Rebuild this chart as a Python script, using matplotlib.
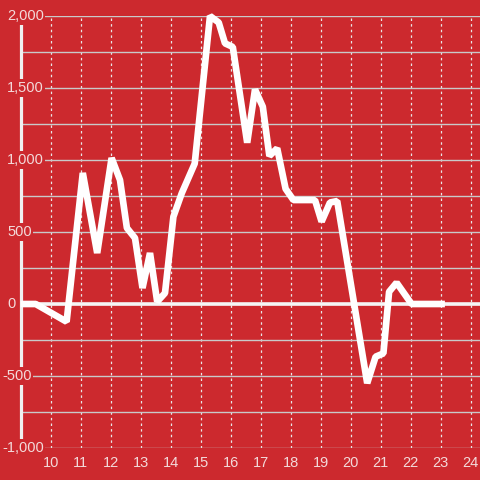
import matplotlib.pyplot as plt
import numpy as np

plt.rcParams['font.family'] = ['Liberation Sans', 'DejaVu Sans']

# data
hours = [9.0, 9.5, 10.53, 11.07, 11.55, 12.03, 12.31, 12.54, 12.81, 13.06,
         13.31, 13.55, 13.81, 14.09, 14.37, 14.8, 15.31, 15.6, 15.81, 16.07,
         16.55, 16.81, 17.07, 17.29, 17.55, 17.83, 18.09, 18.81, 19.03, 19.31,
         19.55, 20.55, 20.83, 21.09, 21.28, 21.53, 22.03, 23.14]
values = [0, 0, -123, 910, 354, 1014, 861, 528, 458, 111,
          354, 16, 76, 606, 770, 975, 2000, 1955, 1810, 1785,
          1120, 1490, 1370, 1028, 1081, 800, 722, 722, 572, 705,
          715, -550, -366, -343, 85, 148, 0, 0]
x_ticks = list(range(10, 25))
y_labels = [-1000, -500, 0, 500, 1000, 1500, 2000]

bg = '#CC292E'
txt = '#F3DADA'

fig = plt.figure(figsize=(4.8, 4.8), dpi=100, facecolor=bg)
ax = fig.add_axes([20.7 / 480, 32 / 480, 459.3 / 480, 432 / 480], facecolor=bg)
ax.set_xlim(9.0, 24.31)
ax.set_ylim(-1000, 2000)

# grid
ax.set_yticks(np.arange(-1000, 2001, 250))
ax.set_xticks(x_ticks)
ax.grid(axis='y', color='#C9C9C9', lw=1.0, zorder=1)
ax.grid(axis='x', color='#E8E8E8', lw=0.9, ls=(0, (2, 2.5)), zorder=1)
ax.tick_params(length=0, labelleft=False)
ax.tick_params(axis='x', colors=txt, labelsize=10.5, pad=6)

for s in ['top', 'right', 'bottom']:
    ax.spines[s].set_visible(False)
ax.spines['left'].set_color('#F0F0F0')
ax.spines['left'].set_linewidth(2.3)

ax.axhline(0, color='#F5F5F5', lw=2.6, zorder=3)
ax.plot(hours, values, color='white', lw=4.8, solid_joinstyle='bevel',
        solid_capstyle='butt', zorder=4, clip_on=False)

# y labels with background boxes over spine and grid
for v in y_labels:
    xp = (2 - 20.7) / 459.3 if v < 0 else (7 - 20.7) / 459.3
    ax.text(xp, v, f'{v:,}', transform=ax.get_yaxis_transform(), ha='left',
            va='center', color=txt, fontsize=10.5, zorder=5, clip_on=False,
            bbox=dict(facecolor=bg, edgecolor='none', pad=1.2))

fig.savefig('out.png', dpi=100, facecolor=bg)
